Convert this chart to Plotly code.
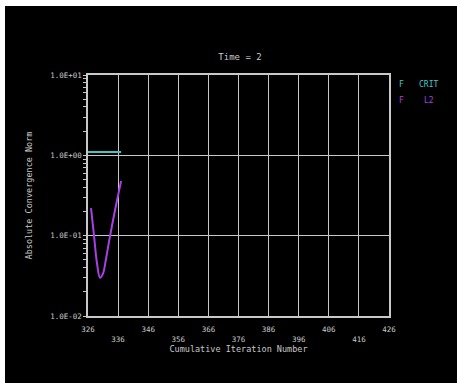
import plotly.graph_objects as go

# Data
crit_x = [326, 337]
crit_y = [1.1, 1.1]
l2_x = [327, 328, 329, 330, 331, 332, 333, 334, 335, 336, 337]
l2_y = [0.22, 0.10, 0.045, 0.030, 0.034, 0.052, 0.085, 0.135, 0.21, 0.32, 0.48]
x_ticks = [326, 336, 346, 356, 366, 376, 386, 396, 406, 416, 426]
y_ticks = [0.01, 0.1, 1, 10]
y_tick_labels = ["1.0E-02", "1.0E-01", "1.0E+00", "1.0E+01"]

FG = "#c8c8c8"
CYAN = "#48c4c4"
PURPLE = "#a840e4"
FONT = "DejaVu Sans Mono"

OX, OY = 5, 6  # page offset seen in the reference
W, H = 462, 390
PL, PR, PT, PB = 88, 389, 75, 316  # plot area in screen pixels


def cx(x):
    return (x - OX) / W


def cy(y):
    return 1 - (y - OY) / H


def ax(x):
    return (x - PL) / (PR - PL)


def ay(y):
    return (PB - y) / (PB - PT)


x_ticktext = [str(v) if i % 2 == 0 else "<br>" + str(v) for i, v in enumerate(x_ticks)]

fig = go.Figure()
fig.add_trace(go.Scatter(x=crit_x, y=crit_y, mode="lines", line=dict(color=CYAN, width=2), showlegend=False))
fig.add_trace(go.Scatter(x=l2_x, y=l2_y, mode="lines", line=dict(color=PURPLE, width=2, shape="spline"), showlegend=False))

fig.update_layout(
    width=W, height=H,
    paper_bgcolor="black", plot_bgcolor="black",
    margin=dict(l=PL - OX, r=W - (PR - OX), t=PT - OY, b=H - (PB - OY)),
    font=dict(family=FONT, size=7.5, color=FG),
    title=dict(text="Time = 2", x=cx(240), xanchor="center", y=cy(57), yanchor="middle",
               font=dict(family=FONT, size=9, color=FG)),
    xaxis=dict(range=[326, 426], tickvals=x_ticks, ticktext=x_ticktext,
               showgrid=True, gridcolor=FG, gridwidth=1.2, zeroline=False,
               showline=True, linecolor=FG, linewidth=1.5, mirror=True,
               ticks="", ticklabelstandoff=5, tickfont=dict(family=FONT, size=7.5, color=FG),
               title=dict(text="Cumulative Iteration Number", standoff=4,
                          font=dict(family=FONT, size=8.5, color=FG))),
    yaxis=dict(type="log", range=[-2, 1], tickvals=y_ticks, ticktext=y_tick_labels,
               showgrid=True, gridcolor=FG, gridwidth=1, zeroline=False,
               showline=True, linecolor=FG, linewidth=1.5, mirror=True,
               ticks="outside", ticklen=3, tickcolor=FG,
               minor=dict(ticks="outside", ticklen=3, tickcolor=FG, showgrid=False,
                          tickvals=[m * 10**e for e in (-2, -1, 0) for m in range(2, 10)]),
               tickfont=dict(family=FONT, size=7.5, color=FG),
               title=dict(text="Absolute Convergence Norm", standoff=16,
                          font=dict(family=FONT, size=8.5, color=FG))),
    annotations=[
        dict(text="F", x=ax(397), y=ay(84), xref="paper", yref="paper", showarrow=False,
             xanchor="left", yanchor="middle", font=dict(family=FONT, size=8, color=CYAN)),
        dict(text="CRIT", x=ax(417), y=ay(84), xref="paper", yref="paper", showarrow=False,
             xanchor="left", yanchor="middle", font=dict(family=FONT, size=8, color=CYAN)),
        dict(text="F", x=ax(397), y=ay(101), xref="paper", yref="paper", showarrow=False,
             xanchor="left", yanchor="middle", font=dict(family=FONT, size=8, color=PURPLE)),
        dict(text="L2", x=ax(422), y=ay(101), xref="paper", yref="paper", showarrow=False,
             xanchor="left", yanchor="middle", font=dict(family=FONT, size=8, color=PURPLE)),
    ],
)

fig.write_html(
    "out.html",
    post_script=(
        "document.documentElement.style.background='black';"
        "document.documentElement.style.overflow='hidden';"
        "var b=document.body;b.style.margin='0';b.style.overflow='hidden';"
        "b.style.borderTop='%dpx solid white';b.style.borderLeft='%dpx solid white';" % (OY, OX)
    ),
)
